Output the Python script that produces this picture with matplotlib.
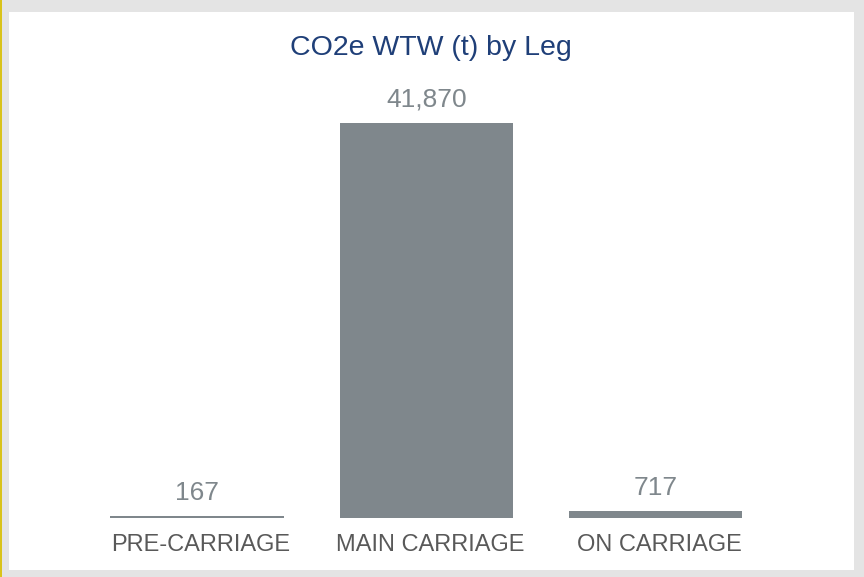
import matplotlib
matplotlib.use("Agg")
import matplotlib.pyplot as plt
from matplotlib.patches import Rectangle
from matplotlib.transforms import ScaledTranslation

# chart data
legs = ["PRE-CARRIAGE", "MAIN CARRIAGE", "ON CARRIAGE"]
co2e_wtw = [167, 41870, 717]
title = "CO2e WTW (t) by Leg"

BAR_COLOR = "#7f878c"
VALUE_COLOR = "#7f878c"
LABEL_COLOR = "#595959"
TITLE_COLOR = "#1f3f78"

plt.rcParams["font.family"] = ["Liberation Sans", "DejaVu Sans"]

fig = plt.figure(figsize=(8.64, 5.77), dpi=100, facecolor="#e4e4e4")

# white card and yellow left edge
fig.patches.append(Rectangle((9 / 864, 1 - 570 / 577), 845 / 864, 558 / 577,
                             transform=fig.transFigure, facecolor="white",
                             edgecolor="none", zorder=-2))
fig.patches.append(Rectangle((0, 0), 2 / 864, 1, transform=fig.transFigure,
                             facecolor="#d9c31a", edgecolor="none", zorder=-2))

ax = fig.add_axes([82.5 / 864, 1 - 518 / 577, 687.5 / 864, 395 / 577])
ax.set_facecolor("none")
x = range(len(legs))
bars = ax.bar(x, co2e_wtw, width=0.756, color=BAR_COLOR)
ax.set_xlim(-0.5, len(legs) - 0.5)
ax.set_ylim(0, max(co2e_wtw))

for xi, v in zip(x, co2e_wtw):
    ax.annotate(f"{v:,}", (xi, v), xytext=(0, 8), textcoords="offset points",
                ha="center", va="bottom", fontsize=19, color=VALUE_COLOR,
                annotation_clip=False)

ax.set_xticks(list(x))
ax.set_xticklabels(legs, fontsize=17, color=LABEL_COLOR)
ax.tick_params(axis="x", length=0, pad=11.5)
# category labels sit a few pixels right of the bar centres
nudge = ScaledTranslation(4 / 100, 0, fig.dpi_scale_trans)
for lbl in ax.get_xticklabels():
    lbl.set_transform(lbl.get_transform() + nudge)
ax.set_yticks([])
for s in ax.spines.values():
    s.set_visible(False)

fig.text(431 / 864, 1 - 48 / 577, title, ha="center", va="center",
         fontsize=20.5, color=TITLE_COLOR)

fig.savefig("out.png", dpi=100, facecolor=fig.get_facecolor())
